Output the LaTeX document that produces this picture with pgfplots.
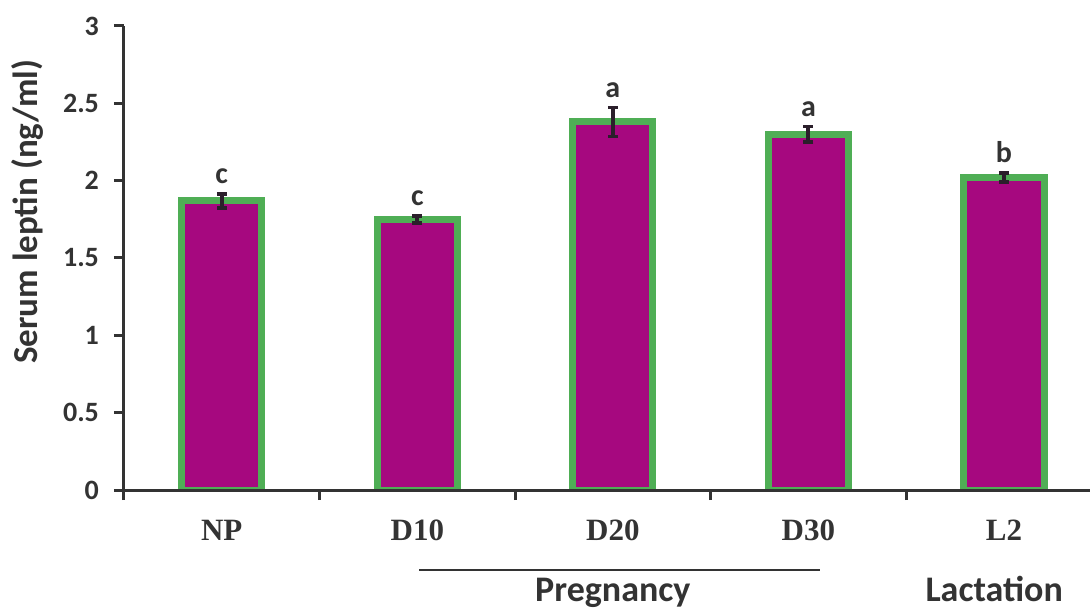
\documentclass[border=0pt]{standalone}
\usepackage{pgfplots}
\pgfplotsset{compat=1.18}
\usepackage{fontspec}
\setmainfont{Carlito}
\newfontfamily\serifb{Liberation Serif}
\definecolor{barfill}{HTML}{A6087F}
\definecolor{bargreen}{HTML}{4FAE55}
\definecolor{axisgray}{HTML}{333333}
\definecolor{errcol}{HTML}{2B1F2B}
\begin{document}
\begin{tikzpicture}
\useasboundingbox (-62pt,-59.5pt) rectangle (483pt,245pt);
\begin{axis}[
  at={(0,0)}, anchor=south west,
  scale only axis, width=483pt, height=232pt,
  xmin=-0.5, xmax=4.44, ymin=0, ymax=3,
  axis x line=bottom, axis y line=left,
  axis line style={-, line width=1.5pt, axisgray},
  axis on top,
  tick align=outside,
  major tick length=5pt,
  tick style={line width=1.5pt, axisgray},
  ytick={0,0.5,1,1.5,2,2.5,3},
  yticklabels={0,0.5,1,1.5,2,2.5,3},
  yticklabel style={font=\bfseries\fontsize{14}{14}\selectfont, text=axisgray, xshift=-4pt},
  xtick={-0.5,0.5,1.5,2.5,3.5},
  xticklabels={},
  extra x ticks={0,1,2,3,4},
  extra x tick labels={NP,D10,D20,D30,L2},
  extra x tick style={major tick length=0pt,
     xticklabel style={font=\serifb\bfseries\fontsize{15.5}{15.5}\selectfont, text=axisgray, anchor=base, yshift=-25pt}},
  ylabel={Serum leptin (ng/ml)},
  ylabel style={font=\bfseries\fontsize{17.5}{17.5}\selectfont, text=axisgray, at={(axis description cs:-0.1004,0.6)}, anchor=center},
]
\addplot[ybar, bar width=0.41, fill=barfill, draw=bargreen, line width=3.5pt,
  error bars/.cd, y dir=both, y explicit,
  error bar style={line width=2pt, color=errcol},
  error mark options={rotate=90, mark size=2.5pt, line width=1.8pt, color=errcol}]
  coordinates {(0,1.87) +- (0,0.045) (1,1.75) +- (0,0.023) (2,2.38) +- (0,0.094) (3,2.30) +- (0,0.05) (4,2.02) +- (0,0.03)};
\addplot[only marks, mark=*, mark size=0pt,
  scatter/use mapped color={draw=none, fill=none},
  mark options={draw=none, fill=none},
  nodes near coords, point meta=explicit symbolic,
  nodes near coords style={anchor=base, inner sep=0pt, yshift=5pt, font=\bfseries\fontsize{15}{15}\selectfont, text=axisgray}]
  coordinates {(0,1.915)[c] (1,1.773)[c] (2,2.474)[a] (3,2.35)[a] (4,2.05)[b]};
\coordinate (pl) at (axis cs:1.01,0);
\coordinate (pr) at (axis cs:3.06,0);
\coordinate (preg) at (axis cs:2,0);
\coordinate (lact) at (axis cs:3.95,0);
\end{axis}
\draw[line width=1pt, axisgray] ([yshift=-40pt]pl) -- ([yshift=-40pt]pr);
\node[anchor=base, inner sep=0pt, font=\bfseries\fontsize{18}{18}\selectfont, text=axisgray] at ([yshift=-55.5pt]preg) {Pregnancy};
\node[anchor=base, inner sep=0pt, font=\bfseries\fontsize{18}{18}\selectfont, text=axisgray] at ([yshift=-55.5pt]lact) {Lactation};
\end{tikzpicture}
\end{document}
